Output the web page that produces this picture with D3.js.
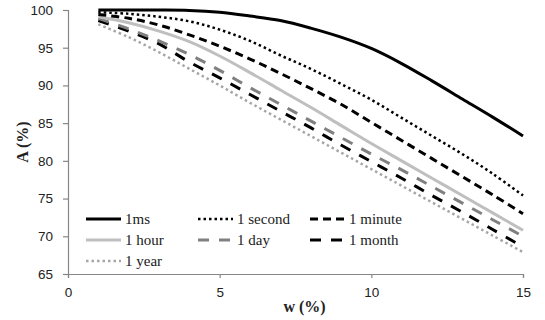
<!DOCTYPE html>
<html>
<head>
<meta charset="utf-8">
<script src="https://cdn.jsdelivr.net/npm/d3@7"></script>
<style>
  body { margin: 0; background: #fff; }
  svg { display: block; }
</style>
</head>
<body>
<div id="chart"></div>
<script>
// w (%) sample points
const wValues = [1, 2, 3, 4, 5, 6, 7, 8, 9, 10, 11, 12, 13, 14, 15];

// A (%) per retention time
const a1ms     = [100, 100, 100, 99.95, 99.7, 99.2, 98.6, 97.6, 96.4, 94.9, 92.9, 90.6, 88.2, 85.8, 83.3];
const a1second = [99.7, 99.5, 99.1, 98.5, 97.4, 95.9, 94.0, 92.2, 90.2, 88.1, 85.7, 83.3, 80.9, 78.3, 75.4];
const a1minute = [99.4, 98.9, 98.0, 96.7, 95.2, 93.5, 91.6, 89.6, 87.5, 85.1, 82.7, 80.3, 77.9, 75.5, 73.0];
const a1hour   = [99.1, 98.3, 97.2, 95.8, 93.9, 91.7, 89.4, 87.1, 84.7, 82.3, 80.0, 77.7, 75.4, 73.1, 70.8];
const a1day    = [98.9, 97.5, 95.9, 94.1, 92.0, 89.7, 87.5, 85.3, 83.1, 80.9, 78.8, 76.6, 74.4, 72.2, 70.0];
const a1month  = [98.6, 97.2, 95.5, 93.1, 91.0, 88.8, 86.6, 84.4, 82.1, 79.9, 77.7, 75.4, 73.2, 70.9, 68.6];
const a1year   = [98.1, 96.4, 94.4, 92.2, 90.0, 87.7, 85.5, 83.3, 81.1, 78.9, 76.7, 74.5, 72.3, 70.1, 67.9];

const seriesNames = ['1ms', '1 second', '1 minute', '1 hour', '1 day', '1 month', '1 year'];
const seriesValues = [a1ms, a1second, a1minute, a1hour, a1day, a1month, a1year];

const xTicks = [0, 5, 10, 15];
const yTicks = [65, 70, 75, 80, 85, 90, 95, 100];

// line styles per series
const styles = [
  { color: '#000000', width: 3,   dash: null },
  { color: '#000000', width: 2.5, dash: '2.5,3' },
  { color: '#000000', width: 3,   dash: '8,5' },
  { color: '#bfbfbf', width: 3,   dash: null },
  { color: '#808080', width: 3,   dash: '11,10' },
  { color: '#000000', width: 3,   dash: '11,10' },
  { color: '#a6a6a6', width: 2.5, dash: '2.5,3' }
];

const width = 545, height = 320;
const margin = { top: 10, right: 22, bottom: 46, left: 68 };
const innerW = width - margin.left - margin.right;
const innerH = height - margin.top - margin.bottom;

const svg = d3.select('#chart').append('svg')
  .attr('width', width)
  .attr('height', height);

const g = svg.append('g')
  .attr('transform', `translate(${margin.left},${margin.top})`);

const x = d3.scaleLinear().domain([0, 15]).range([0, innerW]);
const y = d3.scaleLinear().domain([65, 100]).range([innerH, 0]);

const tickFont = '"Liberation Sans", Arial, sans-serif';
const serifFont = '"Liberation Serif", "DejaVu Serif", serif';

// axes
const yAxis = g.append('g')
  .call(d3.axisLeft(y).tickValues(yTicks).tickSize(5).tickPadding(10).tickFormat(d3.format('d')));
const xAxis = g.append('g')
  .attr('transform', `translate(0,${innerH})`)
  .call(d3.axisBottom(x).tickValues(xTicks).tickSize(4).tickPadding(9).tickFormat(d3.format('d')));

[xAxis, yAxis].forEach(ax => {
  ax.select('.domain').attr('stroke', '#868686').attr('stroke-width', 1.2);
  ax.selectAll('.tick line').attr('stroke', '#868686').attr('stroke-width', 1.2);
  ax.selectAll('.tick text')
    .attr('fill', '#222')
    .style('font-family', tickFont)
    .style('font-size', '13.5px');
});

// lines (smoothed like the original)
const line = d3.line()
  .x((d, i) => x(wValues[i]))
  .y(d => y(Math.min(d, 100)))
  .curve(d3.curveCatmullRom.alpha(0.5));

// draw in reverse so the top lines sit above
seriesValues.map((vals, i) => ({ vals, i })).reverse().forEach(({ vals, i }) => {
  g.append('path')
    .datum(vals)
    .attr('fill', 'none')
    .attr('stroke', styles[i].color)
    .attr('stroke-width', styles[i].width)
    .attr('stroke-dasharray', styles[i].dash)
    .attr('d', line);
});

// legend
const legendCols = [86, 198, 310];
const legendRows = [219, 240, 261];
const legend = svg.append('g');
seriesNames.forEach((name, i) => {
  const cx = legendCols[i % 3];
  const cy = legendRows[Math.floor(i / 3)];
  const item = legend.append('g').attr('transform', `translate(${cx},${cy})`);
  item.append('line')
    .attr('x1', 0).attr('x2', 35)
    .attr('y1', 0).attr('y2', 0)
    .attr('stroke', styles[i].color)
    .attr('stroke-width', styles[i].width)
    .attr('stroke-dasharray', styles[i].dash);
  item.append('text')
    .attr('x', 39)
    .attr('y', 5)
    .attr('fill', '#1a1a1a')
    .style('font-family', serifFont)
    .style('font-size', '15px')
    .text(name);
});

// axis titles
svg.append('text')
  .attr('x', margin.left + x(7.8))
  .attr('y', 312)
  .attr('text-anchor', 'middle')
  .style('font-family', serifFont)
  .style('font-weight', 'bold')
  .style('font-size', '16px')
  .attr('fill', '#222')
  .text('w (%)');

svg.append('text')
  .attr('transform', 'translate(28,142) rotate(-90)')
  .attr('text-anchor', 'middle')
  .style('font-family', serifFont)
  .style('font-weight', 'bold')
  .style('font-size', '16px')
  .attr('fill', '#222')
  .text('A (%)');
</script>
</body>
</html>
